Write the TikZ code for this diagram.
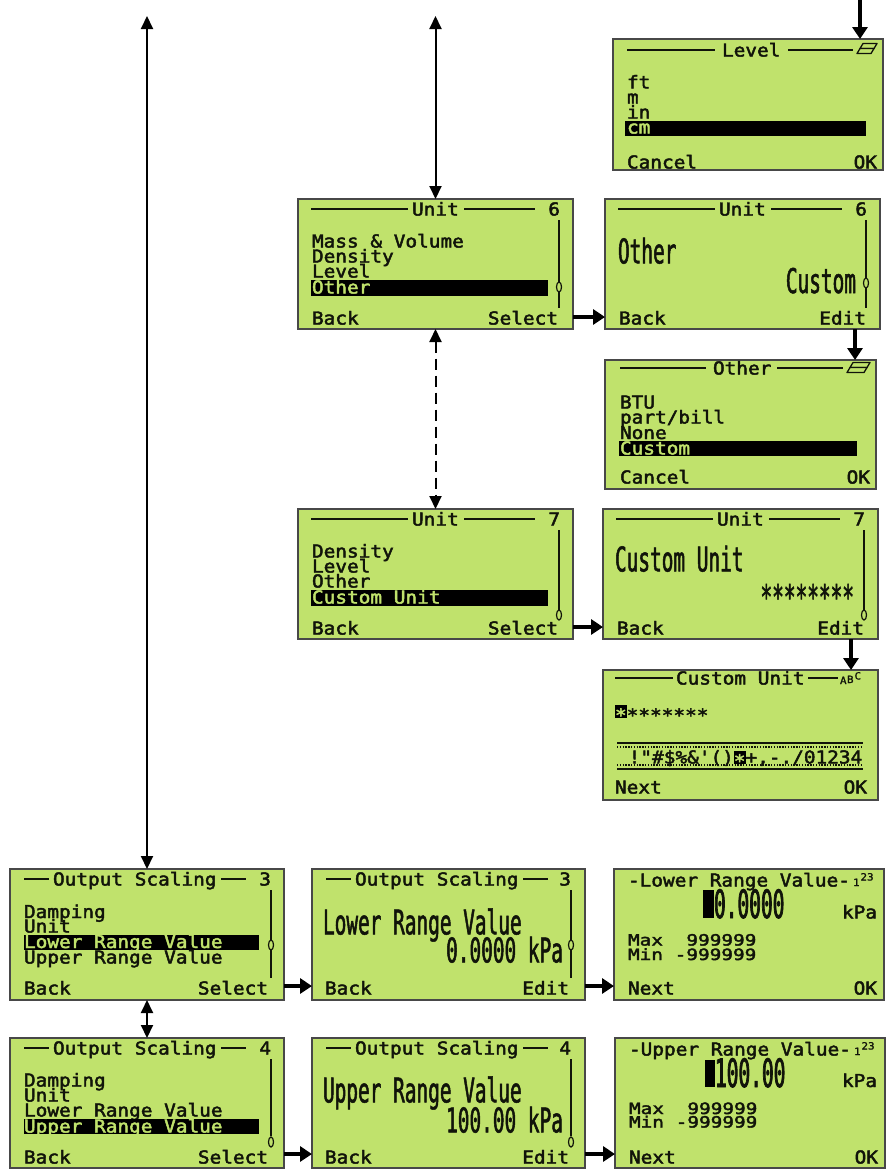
\documentclass[tikz,border=0pt]{standalone}
\usepackage{fontspec}
\usetikzlibrary{arrows.meta,calc}
\newfontfamily\lcdsmallfont[FakeStretch=1.09,FakeBold=2.5]{DejaVu Sans Mono}
\newfontfamily\lcdmmfont[FakeStretch=1.25,FakeBold=2.5]{DejaVu Sans Mono}
\newfontfamily\lcdtinyfont[FakeStretch=1.09,FakeBold=1.5]{DejaVu Sans Mono}
\newfontfamily\lcdbigfont[FakeStretch=0.571,FakeBold=1.5]{DejaVu Sans Mono}
\newfontfamily\lcdnumfont[FakeStretch=0.5,FakeBold=1.8]{DejaVu Sans Mono}
\newcommand\Lsm{\lcdsmallfont\fontsize{17.8pt}{17.8pt}\selectfont}
\newcommand\Lmm{\lcdmmfont\fontsize{15.5pt}{15.5pt}\selectfont}
\newcommand\Lbig{\lcdbigfont\fontsize{34pt}{34pt}\selectfont}
\newcommand\Lnum{\lcdnumfont\fontsize{39pt}{39pt}\selectfont}
\newcommand\Ltiny{\lcdtinyfont\fontsize{10pt}{10pt}\selectfont}
\definecolor{lcdbg}{RGB}{192,226,108}
\definecolor{lcdink}{RGB}{17,20,10}
\definecolor{lcdframe}{RGB}{72,72,72}
\tikzset{
  screen/.style={rectangle, draw=lcdframe, line width=1.5pt, fill=lcdbg, inner sep=0pt, outer sep=0pt, anchor=north west},
  st/.style={font=\Lsm, text=lcdink, inner sep=0pt, outer sep=0pt, anchor=base west},
  ste/.style={st, anchor=base east},
  sth/.style={st, text=lcdbg},
  mm/.style={st, font=\Lmm},
  bt/.style={font=\Lbig, text=lcdink, inner sep=0pt, outer sep=0pt, anchor=base west},
  bte/.style={bt, anchor=base east},
  nt/.style={font=\Lnum, text=lcdink, inner sep=0pt, outer sep=0pt, anchor=base west},
  tt/.style={font=\Ltiny, text=lcdink, inner sep=0pt, outer sep=0pt, anchor=base west},
  lcdrule/.style={draw=lcdink, line width=1.3pt},
  dotrule/.style={draw=lcdink, line width=1.4pt, dash pattern=on 1.4pt off 1.4pt},
  hlbar/.style={fill=black},
  scrollmark/.style={draw=lcdink, line width=1.2pt, fill=lcdbg},
  lcdicon/.style={draw=lcdink, line width=1.3pt, fill=lcdbg, line join=round},
  flow/.style={draw=black, line width=4pt, -{Triangle[width=15pt,length=12pt]}},
  link/.style={draw=black, line width=2pt, {Triangle[width=12pt,length=13pt]}-{Triangle[width=12pt,length=13pt]}},
  dlink/.style={link, dash pattern=on 11pt off 6pt},
}
\begin{document}
\begin{tikzpicture}[x=1pt,y=-1pt]
\fill[white] (0,0) rectangle (889,1173);
\path[use as bounding box] (0,0) rectangle (889,1173);

% ---------- screens ----------
\node[screen, minimum width=270pt, minimum height=131pt] (lv)   at (613,39)   {};
\node[screen, minimum width=275pt, minimum height=130pt] (u6)   at (298,199)  {};
\node[screen, minimum width=275pt, minimum height=130pt] (u6d)  at (605,199)  {};
\node[screen, minimum width=271pt, minimum height=129pt] (ot)   at (605,360)  {};
\node[screen, minimum width=275pt, minimum height=130pt] (u7)   at (298,509)  {};
\node[screen, minimum width=275pt, minimum height=130pt] (u7d)  at (603,509)  {};
\node[screen, minimum width=275pt, minimum height=130pt] (cu)   at (603,670)  {};
\node[screen, minimum width=274pt, minimum height=131pt] (os3)  at (10,869)   {};
\node[screen, minimum width=273pt, minimum height=131pt] (os3d) at (312,869)  {};
\node[screen, minimum width=270pt, minimum height=131pt] (lrv)  at (614,869)  {};
\node[screen, minimum width=274pt, minimum height=130pt] (os4)  at (10,1038)  {};
\node[screen, minimum width=273pt, minimum height=130pt] (os4d) at (312,1038) {};
\node[screen, minimum width=270pt, minimum height=130pt] (urv)  at (615,1038) {};

% ---------- Level ----------
\begin{scope}[shift={(613,39)}]
  \draw[lcdrule] (14,11) -- (102,11);
  \node[st] (lv-t) at (109,17.5) {Level};
  \draw[lcdrule] (175,11) -- (240,11);
  \draw[lcdicon] (250,4.5) -- (264,4.5) -- (261,9.5) -- (247,9.5) -- cycle;
  \draw[lcdicon] (247,9.5) -- (261,9.5) -- (258,14.5) -- (244,14.5) -- cycle;
  \node[st] (lv-1) at (14,49.5) {ft};
  \node[st] (lv-2) at (14,64.5) {m};
  \node[st] (lv-3) at (14,79.5) {in};
  \fill[hlbar] (12,81.5) rectangle (253,96.5);
  \node[sth] (lv-4) at (14,94.5) {cm};
  \node[st] (lv-l) at (14,129.5) {Cancel};
  \node[ste] (lv-r) at (264,129.5) {OK};
\end{scope}

% ---------- Unit 6 menu ----------
\begin{scope}[shift={(298,199)}]
  \draw[lcdrule] (13,10) -- (110,10);
  \node[st] (u6-t) at (114,16.5) {Unit};
  \draw[lcdrule] (166,10) -- (237,10);
  \node[ste] (u6-n) at (262,16.5) {6};
  \node[st] (u6-1) at (14,48.5) {Mass \& Volume};
  \node[st] (u6-2) at (14,63.5) {Density};
  \node[st] (u6-3) at (14,78.5) {Level};
  \fill[hlbar] (13,80.5) rectangle (250,96.5);
  \node[sth] (u6-4) at (14,94.5) {Other};
  \draw[lcdrule] (261,21) -- (261,109);
  \draw[scrollmark] (261,88) ellipse [x radius=2.5pt, y radius=5pt];
  \node[st] (u6-l) at (14,125.5) {Back};
  \node[ste] (u6-r) at (260,125.5) {Select};
\end{scope}

% ---------- Unit 6 detail ----------
\begin{scope}[shift={(605,199)}]
  \draw[lcdrule] (13,10) -- (110,10);
  \node[st] (u6d-t) at (114,16.5) {Unit};
  \draw[lcdrule] (166,10) -- (237,10);
  \node[ste] (u6d-n) at (262,16.5) {6};
  \node[bt] (u6d-k) at (13,64.4) {Other};
  \node[bte] (u6d-v) at (251,94) {Custom};
  \draw[lcdrule] (261,21) -- (261,109);
  \draw[scrollmark] (261,84) ellipse [x radius=2.5pt, y radius=5pt];
  \node[st] (u6d-l) at (14,125.5) {Back};
  \node[ste] (u6d-r) at (261,125.5) {Edit};
\end{scope}

% ---------- Other list ----------
\begin{scope}[shift={(605,360)}]
  \draw[lcdrule] (15,8) -- (101,8);
  \node[st] (ot-t) at (108,14.5) {Other};
  \draw[lcdrule] (172,8) -- (238,8);
  \draw[lcdicon] (248,2.5) -- (265,2.5) -- (262,7.5) -- (245,7.5) -- cycle;
  \draw[lcdicon] (245,7.5) -- (262,7.5) -- (259,12.5) -- (242,12.5) -- cycle;
  \node[st] (ot-1) at (15,48.5) {BTU};
  \node[st] (ot-2) at (15,63.5) {part/bill};
  \node[st] (ot-3) at (15,79) {None};
  \fill[hlbar] (14,81) rectangle (252,96);
  \node[sth] (ot-4) at (15,94.5) {Custom};
  \node[st] (ot-l) at (15,123.5) {Cancel};
  \node[ste] (ot-r) at (265,123.5) {OK};
\end{scope}

% ---------- Unit 7 menu ----------
\begin{scope}[shift={(298,509)}]
  \draw[lcdrule] (13,10) -- (110,10);
  \node[st] (u7-t) at (114,16.5) {Unit};
  \draw[lcdrule] (166,10) -- (237,10);
  \node[ste] (u7-n) at (262,16.5) {7};
  \node[st] (u7-1) at (14,48.5) {Density};
  \node[st] (u7-2) at (14,63.5) {Level};
  \node[st] (u7-3) at (14,78.5) {Other};
  \fill[hlbar] (13,80.5) rectangle (250,96.5);
  \node[sth] (u7-4) at (14,94.5) {Custom Unit};
  \draw[lcdrule] (261,21) -- (261,101);
  \draw[scrollmark] (261,106) ellipse [x radius=2.5pt, y radius=5pt];
  \node[st] (u7-l) at (14,125.5) {Back};
  \node[ste] (u7-r) at (260,125.5) {Select};
\end{scope}

% ---------- Unit 7 detail ----------
\begin{scope}[shift={(603,509)}]
  \draw[lcdrule] (13,10) -- (110,10);
  \node[st] (u7d-t) at (114,16.5) {Unit};
  \draw[lcdrule] (166,10) -- (237,10);
  \node[ste] (u7d-n) at (262,16.5) {7};
  \node[bt] (u7d-k) at (12,62.4) {Custom Unit};
  \node[bte] (u7d-v) at (251,100) {********};
  \draw[lcdrule] (261,21) -- (261,101);
  \draw[scrollmark] (261,106) ellipse [x radius=2.5pt, y radius=5pt];
  \node[st] (u7d-l) at (14,125.5) {Back};
  \node[ste] (u7d-r) at (261,125.5) {Edit};
\end{scope}

% ---------- Custom Unit editor ----------
\begin{scope}[shift={(603,670)}]
  \draw[lcdrule] (12,8) -- (70,8);
  \node[st] (cu-t) at (73,14.5) {Custom Unit};
  \draw[lcdrule] (205,8) -- (235,8);
  \node[tt] (cu-ia) at (237,14) {A};
  \node[tt] (cu-ib) at (244,13) {B};
  \node[tt] (cu-ic) at (251.5,9.5) {C};
  \fill[hlbar] (12,35) rectangle (23.7,47.5);
  \node[sth] (cu-c1) at (12,51.5) {*};
  \node[st] (cu-c2) at (23.7,51.5) {*******};
  \draw[lcdrule] (14,73) -- (260,73);
  \draw[dotrule] (14,77) -- (260,77);
  \draw[dotrule] (14,95) -- (260,95);
  \draw[lcdrule] (14,99) -- (260,99);
  \node[st] (cu-r1) at (25.7,93.5) {!"\#\$\%\&\char"27()};
  \fill[hlbar] (130.8,80.5) rectangle (142.5,94);
  \node[sth] (cu-r2) at (130.8,97.3) {*};
  \node[st] (cu-r3) at (142.5,93.5) {+,-./01234};
  \node[st] (cu-l) at (12,123.5) {Next};
  \node[ste] (cu-r) at (264,123.5) {OK};
\end{scope}

% ---------- Output Scaling 3 menu ----------
\begin{scope}[shift={(10,869)}]
  \draw[lcdrule] (14,10) -- (39,10);
  \node[st] (os3-t) at (43,16.5) {Output Scaling};
  \draw[lcdrule] (211,10) -- (236,10);
  \node[ste] (os3-n) at (261,16.5) {3};
  \node[st] (os3-1) at (14,49) {Damping};
  \node[st] (os3-2) at (14,63.5) {Unit};
  \fill[hlbar] (14,65.5) rectangle (249,80.5);
  \node[sth] (os3-3) at (14,79) {Lower Range Value};
  \node[st] (os3-4) at (14,94.5) {Upper Range Value};
  \draw[lcdrule] (261,21) -- (261,109);
  \draw[scrollmark] (261,76) ellipse [x radius=2.5pt, y radius=5pt];
  \node[st] (os3-l) at (14,125.5) {Back};
  \node[ste] (os3-r) at (258,125.5) {Select};
\end{scope}

% ---------- Output Scaling 3 detail ----------
\begin{scope}[shift={(312,869)}]
  \draw[lcdrule] (14,10) -- (39,10);
  \node[st] (os3d-t) at (43,16.5) {Output Scaling};
  \draw[lcdrule] (211,10) -- (236,10);
  \node[ste] (os3d-n) at (259,16.5) {3};
  \node[bt] (os3d-k) at (11,65.4) {Lower Range Value};
  \node[bte] (os3d-v) at (251,93.4) {0.0000 kPa};
  \draw[lcdrule] (259,21) -- (259,109);
  \draw[scrollmark] (259,76) ellipse [x radius=2.5pt, y radius=5pt];
  \node[st] (os3d-l) at (13,125.5) {Back};
  \node[ste] (os3d-r) at (257,125.5) {Edit};
\end{scope}

% ---------- Lower Range Value editor ----------
\begin{scope}[shift={(614,869)}]
  \node[st] (lrv-t) at (14,17.5) {-Lower Range Value-};
  \node[tt] (lrv-q1) at (239,17) {1};
  \node[tt] (lrv-q2) at (246.5,11.5) {23};
  \fill[hlbar] (89,21) rectangle (100,49);
  \node[nt] (lrv-v) at (100,49) {0.0000};
  \node[st] (lrv-u) at (228,49.5) {kPa};
  \node[mm] (lrv-mx) at (14,76.5) {Max};
  \node[mm] (lrv-mxv) at (72.4,76.5) {999999};
  \node[mm] (lrv-mn) at (14,91) {Min};
  \node[mm] (lrv-mnv) at (60.7,91) {-999999};
  \node[st] (lrv-l) at (14,125.5) {Next};
  \node[ste] (lrv-r) at (263,125.5) {OK};
\end{scope}

% ---------- Output Scaling 4 menu ----------
\begin{scope}[shift={(10,1038)}]
  \draw[lcdrule] (14,10) -- (39,10);
  \node[st] (os4-t) at (43,16.5) {Output Scaling};
  \draw[lcdrule] (211,10) -- (236,10);
  \node[ste] (os4-n) at (261,16.5) {4};
  \node[st] (os4-1) at (14,48.5) {Damping};
  \node[st] (os4-2) at (14,63.5) {Unit};
  \node[st] (os4-3) at (14,78.5) {Lower Range Value};
  \fill[hlbar] (14,81) rectangle (249,96);
  \node[sth] (os4-4) at (14,94.5) {Upper Range Value};
  \draw[lcdrule] (261,21) -- (261,98);
  \draw[scrollmark] (261,104) ellipse [x radius=2.5pt, y radius=5pt];
  \node[st] (os4-l) at (14,125.5) {Back};
  \node[ste] (os4-r) at (258,125.5) {Select};
\end{scope}

% ---------- Output Scaling 4 detail ----------
\begin{scope}[shift={(312,1038)}]
  \draw[lcdrule] (14,10) -- (39,10);
  \node[st] (os4d-t) at (43,16.5) {Output Scaling};
  \draw[lcdrule] (211,10) -- (236,10);
  \node[ste] (os4d-n) at (259,16.5) {4};
  \node[bt] (os4d-k) at (11,64.4) {Upper Range Value};
  \node[bte] (os4d-v) at (251,94.4) {100.00 kPa};
  \draw[lcdrule] (259,21) -- (259,98);
  \draw[scrollmark] (259,104) ellipse [x radius=2.5pt, y radius=5pt];
  \node[st] (os4d-l) at (13,125.5) {Back};
  \node[ste] (os4d-r) at (257,125.5) {Edit};
\end{scope}

% ---------- Upper Range Value editor ----------
\begin{scope}[shift={(615,1038)}]
  \node[st] (urv-t) at (14,17.5) {-Upper Range Value-};
  \node[tt] (urv-q1) at (239,17) {1};
  \node[tt] (urv-q2) at (246.5,11.5) {23};
  \fill[hlbar] (90,22) rectangle (100,49);
  \node[nt] (urv-v) at (100,49) {100.00};
  \node[st] (urv-u) at (227,49) {kPa};
  \node[mm] (urv-mx) at (14,76) {Max};
  \node[mm] (urv-mxv) at (72.4,76) {999999};
  \node[mm] (urv-mn) at (14,89.5) {Min};
  \node[mm] (urv-mnv) at (60.7,89.5) {-999999};
  \node[st] (urv-l) at (14,125.5) {Next};
  \node[ste] (urv-r) at (263,125.5) {OK};
\end{scope}

% ---------- connectors ----------
\coordinate (lvin) at (860,0);
\coordinate (u6up) at (u6.north |- 0,16);
\coordinate (os3up) at (os3.north |- 0,16);
\draw[flow] (lvin) -- (lvin |- lv.north);
\draw[link] (u6up) -- (u6.north);
\draw[link] (os3up) -- (os3.north);
\draw[flow] (u6.east |- 0,317) -- (u6d.west |- 0,317);
\draw[flow] (u6d.south -| 855,0) -- (ot.north -| 855,0);
\draw[dlink] (u6.south) -- (u7.north);
\draw[flow] (u7.east |- 0,627) -- (u7d.west |- 0,627);
\draw[flow] (u7d.south -| 851,0) -- (cu.north -| 851,0);
\draw[flow] (os3.east |- 0,986) -- (os3d.west |- 0,986);
\draw[flow] (os3d.east |- 0,986) -- (lrv.west |- 0,986);
\draw[link] (os3.south) -- (os4.north);
\draw[flow] (os4.east |- 0,1154) -- (os4d.west |- 0,1154);
\draw[flow] (os4d.east |- 0,1154) -- (urv.west |- 0,1154);
\end{tikzpicture}
\end{document}
